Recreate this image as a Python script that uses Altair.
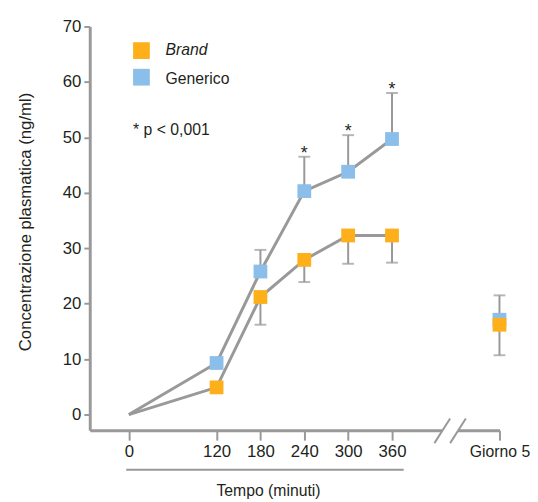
import altair as alt
import pandas as pd

FONT = "Liberation Sans, Arial, sans-serif"
ORANGE = "#FDB01A"
BLUE = "#8BBFE9"
GRAY = "#999999"
TEXT = "#231F20"
FS = 16

# ---- data -------------------------------------------------------------
GIORNO5 = 507  # plotting position used for the "Giorno 5" category
times = [0, 120, 180, 240, 300, 360]
brand = [0, 4.9, 21.2, 27.9, 32.3, 32.3]
generico = [0, 9.3, 25.8, 40.3, 43.8, 49.7]
giorno5_brand = 16.2
giorno5_generico = 17.1

err_x = [180, 240, 300, 360, GIORNO5]
generico_mean = [25.8, 40.3, 43.8, 49.7, 17.1]
generico_upper = [29.7, 46.5, 50.4, 58.0, 21.5]
brand_mean = [21.2, 27.9, 32.3, 32.3, 16.2]
brand_lower = [16.2, 23.9, 27.2, 27.4, 10.7]

star_x = [240, 300, 360]
star_y = [46.5, 50.4, 58.0]

x_ticks = [0, 120, 180, 240, 300, 360, GIORNO5]
y_ticks = [0, 10, 20, 30, 40, 50, 60, 70]

# decoration: axis break and underline (in data units)
break_gap = [428.7, 450.3]
slash_x = [418.0, 439.5]
slash_x2 = [439.5, 461.0]
slash_y = [-5.15, -5.15]
slash_y2 = [-0.7, -0.7]
underline_x = [-3.6, 376.0]

W, H = 416, 410

xs = alt.Scale(domain=[-53.5, 507], nice=False, zero=False)
ys = alt.Scale(domain=[-2.84, 70], nice=False, zero=False)

lines_df = pd.DataFrame({
    "t": times + times,
    "v": generico + brand,
    "s": ["Generico"] * len(times) + ["Brand"] * len(times),
})
pts_gen = pd.DataFrame({"t": times[1:] + [GIORNO5], "v": generico[1:] + [giorno5_generico]})
pts_brand = pd.DataFrame({"t": times[1:] + [GIORNO5], "v": brand[1:] + [giorno5_brand]})
err_gen = pd.DataFrame({"t": err_x, "v": generico_mean, "e": generico_upper})
err_brand = pd.DataFrame({"t": err_x, "v": brand_mean, "e": brand_lower})
stars = pd.DataFrame({"t": star_x, "v": star_y, "lab": ["*"] * 3})

xaxis = alt.Axis(
    values=x_ticks, title="Tempo (minuti)", grid=False,
    labelExpr=f"datum.value == {GIORNO5} ? 'Giorno 5' : datum.label",
    labelFontSize={"condition": {"test": f"datum.value == {GIORNO5}", "value": FS}, "value": FS + 1},
    labelColor=TEXT, labelFlush=False, labelOverlap=False,
    labelPadding=4, tickSize=10, tickWidth=2, tickColor=GRAY,
    domainColor=GRAY, domainWidth=3,
    titleFontSize=FS, titleFontWeight="normal", titleColor=TEXT,
    titleX=181, titleY=61, titleBaseline="middle", titleAlign="center",
)
yaxis = alt.Axis(
    values=y_ticks, title="Concentrazione plasmatica (ng/ml)", grid=False,
    labelFontSize=FS + 1, labelColor=TEXT, labelPadding=3,
    tickSize=6, tickWidth=2, tickColor=GRAY,
    domainColor=GRAY, domainWidth=3,
    titleFontSize=17, titleFontWeight="normal", titleColor=TEXT,
    titleX=-65, titleY=198, titleAngle=270, titleAlign="center", titleBaseline="middle",
)


def X(f="t"):
    return alt.X(f"{f}:Q", scale=xs, axis=xaxis)


def Y(f="v"):
    return alt.Y(f"{f}:Q", scale=ys, axis=yaxis)


base_lines = alt.Chart(lines_df).mark_line(color=GRAY, strokeWidth=3).encode(
    x=X(), y=Y(), detail="s:N")

err_rules = alt.layer(
    alt.Chart(err_gen).mark_rule(color=GRAY, strokeWidth=2).encode(x=X(), y=Y(), y2="e:Q"),
    alt.Chart(err_brand).mark_rule(color=GRAY, strokeWidth=2).encode(x=X(), y=Y(), y2="e:Q"),
    alt.Chart(err_gen).mark_tick(color=GRAY, thickness=2, size=12, orient="horizontal").encode(x=X(), y=Y("e")),
    alt.Chart(err_brand).mark_tick(color=GRAY, thickness=2, size=12, orient="horizontal").encode(x=X(), y=Y("e")),
)

squares = alt.layer(
    alt.Chart(pts_gen).mark_point(shape="square", filled=True, size=196, opacity=1, color=BLUE).encode(x=X(), y=Y()),
    alt.Chart(pts_brand).mark_point(shape="square", filled=True, size=196, opacity=1, color=ORANGE).encode(x=X(), y=Y()),
)

star_txt = alt.Chart(stars).mark_text(fontSize=FS + 2, color=TEXT, baseline="alphabetic", dy=2).encode(
    x=X(), y=Y(), text="lab:N")

# axis break
gap_df = pd.DataFrame({"a": [break_gap[0]], "b": [break_gap[1]]})
gap = alt.Chart(gap_df).mark_rect(color="white").encode(
    x=X("a"), x2="b:Q", y=alt.value(H - 3), y2=alt.value(H + 3))
slash_df = pd.DataFrame({"x": slash_x, "x2": slash_x2, "y": slash_y, "y2": slash_y2})
slashes = alt.Chart(slash_df).mark_rule(color=GRAY, strokeWidth=2).encode(
    x=X("x"), x2="x2:Q", y=Y("y"), y2="y2:Q")

under_df = pd.DataFrame({"a": [underline_x[0]], "b": [underline_x[1]]})
underline = alt.Chart(under_df).mark_rule(color=GRAY, strokeWidth=2).encode(
    x=X("a"), x2="b:Q", y=alt.value(H + 40))

# manual legend
one = pd.DataFrame({"k": [0]})
leg = alt.layer(
    alt.Chart(one).mark_point(shape="square", filled=True, size=289, opacity=1, color=ORANGE).encode(
        x=alt.value(52.5), y=alt.value(24.5)),
    alt.Chart(one).mark_point(shape="square", filled=True, size=289, opacity=1, color=BLUE).encode(
        x=alt.value(52.5), y=alt.value(51.5)),
    alt.Chart(one).mark_text(text="Brand", fontSize=FS, fontStyle="italic", color=TEXT,
                             align="left", baseline="middle").encode(x=alt.value(77), y=alt.value(24)),
    alt.Chart(one).mark_text(text="Generico", fontSize=FS, color=TEXT,
                             align="left", baseline="middle").encode(x=alt.value(77), y=alt.value(53)),
    alt.Chart(one).mark_text(text="* p < 0,001", fontSize=FS, color=TEXT,
                             align="left", baseline="middle").encode(x=alt.value(44), y=alt.value(105)),
)

chart = alt.layer(
    base_lines, gap, slashes, underline, err_rules, squares, star_txt, leg
).properties(
    width=W, height=H,
    autosize=alt.AutoSizeParams(type="none"),
    padding={"left": 83, "top": 15, "right": 31, "bottom": 66},
).configure(font=FONT).configure_view(stroke=None)

chart.save("out.html", embed_options={"renderer": "svg", "actions": False})
